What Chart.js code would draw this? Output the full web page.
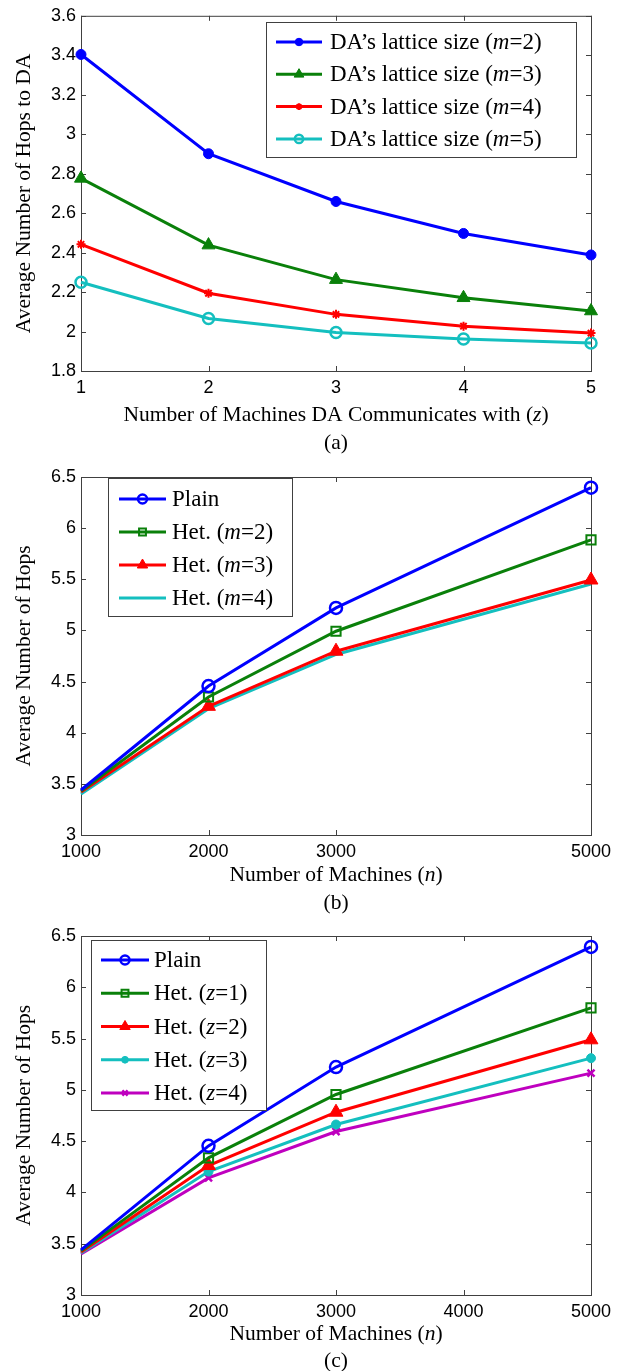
<!DOCTYPE html>
<html><head><meta charset="utf-8">
<script src="https://cdn.jsdelivr.net/npm/chart.js@4.4.1/dist/chart.umd.min.js"></script>
<style>
html,body{margin:0;padding:0;background:#fff;}
body{width:625px;height:1371px;position:relative;overflow:hidden;}
.panel{position:absolute;left:0;width:625px;}
canvas{display:block;}
</style></head><body>
<div class="panel" style="top:0;height:460px"><canvas id="ca" width="625" height="460"></canvas></div>
<div class="panel" style="top:460px;height:460px"><canvas id="cb" width="625" height="460"></canvas></div>
<div class="panel" style="top:920px;height:451px"><canvas id="cc" width="625" height="451"></canvas></div>
<script>
// ---------- data: panel (a) ----------
const zValues = [1, 2, 3, 4, 5];
const hopsToDA_m2 = [3.404, 2.901, 2.659, 2.497, 2.388];
const hopsToDA_m3 = [2.776, 2.438, 2.263, 2.171, 2.104];
const hopsToDA_m4 = [2.442, 2.194, 2.087, 2.027, 1.992];
const hopsToDA_m5 = [2.250, 2.066, 1.995, 1.962, 1.942];
const labelsA = ['DA\u2019s lattice size (m=2)', 'DA\u2019s lattice size (m=3)', 'DA\u2019s lattice size (m=4)', 'DA\u2019s lattice size (m=5)'];
const xTicksA = [1, 2, 3, 4, 5];
const yTicksA = [1.8, 2, 2.2, 2.4, 2.6, 2.8, 3, 3.2, 3.4, 3.6];
const yTitleA = 'Average Number of Hops to DA';
const xTitleA = 'Number of Machines DA Communicates with (z)';
const captionA = '(a)';

// ---------- data: panel (b) ----------
const machinesN = [1000, 2000, 3000, 5000];
const hopsB_plain = [3.44, 4.456, 5.220, 6.396];
const hopsB_m2 = [3.43, 4.349, 4.992, 5.886];
const hopsB_m3 = [3.42, 4.258, 4.797, 5.493];
const hopsB_m4 = [3.40, 4.235, 4.765, 5.454];
const labelsB = ['Plain', 'Het. (m=2)', 'Het. (m=3)', 'Het. (m=4)'];
const xTicksB = [1000, 2000, 3000, 5000];
const yTicksBC = [3, 3.5, 4, 4.5, 5, 5.5, 6, 6.5];
const yTitleB = 'Average Number of Hops';
const xTitleB = 'Number of Machines (n)';
const captionB = '(b)';

// ---------- data: panel (c) ----------
const hopsC_plain = [3.44, 4.454, 5.222, 6.393];
const hopsC_z1 = [3.43, 4.337, 4.955, 5.800];
const hopsC_z2 = [3.42, 4.262, 4.782, 5.488];
const hopsC_z3 = [3.41, 4.203, 4.662, 5.309];
const hopsC_z4 = [3.40, 4.142, 4.594, 5.163];
const labelsC = ['Plain', 'Het. (z=1)', 'Het. (z=2)', 'Het. (z=3)', 'Het. (z=4)'];
const xTicksC = [1000, 2000, 3000, 4000, 5000];
const yTitleC = 'Average Number of Hops';
const xTitleC = 'Number of Machines (n)';
const captionC = '(c)';

// ---------- styling ----------
const BLUE = '#0000ff', GREEN = '#0a800a', RED = '#ff0000', CYAN = '#14bfbf', MAGENTA = '#bf00bf';
const SERIF = '"Liberation Serif", "Times New Roman", serif';
const SANS = '"Liberation Sans", Arial, sans-serif';
const TITLE_PX = 21.5, LEGEND_PX = 23;

function segs(text) {
  const m = text.match(/\(([mnz])(?=[=)])/);
  if (!m) return [[text, false]];
  const i = m.index + 1;
  return [[text.slice(0, i), false], [text[i], true], [text.slice(i + 1), false]];
}
function setFont(ctx, italic, px) { ctx.font = (italic ? 'italic ' : '') + px + 'px ' + SERIF; }
function segWidth(ctx, parts, px) {
  let w = 0;
  parts.forEach(([t, it]) => { setFont(ctx, it, px); w += ctx.measureText(t).width; });
  return w;
}
function drawSegs(ctx, parts, x, y, px) {
  parts.forEach(([t, it]) => { setFont(ctx, it, px); ctx.fillText(t, x, y); x += ctx.measureText(t).width; });
}
function drawMarker(ctx, ds, x, y) {
  if (!ds.pointStyle || !ds.markerSize) return;
  ctx.save();
  ctx.fillStyle = ds.markerFill;
  ctx.strokeStyle = ds.borderColor;
  ctx.lineWidth = ds.pointBorderWidth;
  Chart.helpers.drawPoint(ctx, {pointStyle: ds.pointStyle, radius: ds.markerSize * 0.75, rotation: 0, borderWidth: ds.pointBorderWidth}, x, y);
  ctx.restore();
}

const framePlugin = {
  id: 'frame',
  beforeDatasetsDraw(chart) {
    const {ctx, chartArea: a, scales} = chart;
    ctx.save();
    ctx.strokeStyle = '#404040';
    ctx.lineWidth = 1;
    ctx.strokeRect(a.left + 0.5, a.top + 0.5, a.right - a.left, a.bottom - a.top);
    const tl = 5;
    ctx.beginPath();
    scales.x.ticks.forEach(t => {
      const px = Math.round(scales.x.getPixelForValue(t.value)) + 0.5;
      ctx.moveTo(px, a.bottom); ctx.lineTo(px, a.bottom - tl);
      ctx.moveTo(px, a.top); ctx.lineTo(px, a.top + tl);
    });
    scales.y.ticks.forEach(t => {
      const py = Math.round(scales.y.getPixelForValue(t.value)) + 0.5;
      ctx.moveTo(a.left, py); ctx.lineTo(a.left + tl, py);
      ctx.moveTo(a.right, py); ctx.lineTo(a.right - tl, py);
    });
    ctx.stroke();
    ctx.restore();
  },
  afterDatasetsDraw(chart, args, o) {
    const {ctx, chartArea: a} = chart;
    ctx.save();
    ctx.fillStyle = '#000';
    ctx.textBaseline = 'middle';
    // x title + caption
    const cx = (a.left + a.right) / 2;
    const xp = segs(o.xTitle);
    drawSegs(ctx, xp, cx - segWidth(ctx, xp, TITLE_PX) / 2, o.xTitleY, TITLE_PX);
    const cp = [[o.caption, false]];
    drawSegs(ctx, cp, cx - segWidth(ctx, cp, TITLE_PX) / 2, o.captionY, TITLE_PX);
    // y title
    ctx.save();
    ctx.translate(o.yTitleX, (a.top + a.bottom) / 2);
    ctx.rotate(-Math.PI / 2);
    const yp = segs(o.yTitle);
    drawSegs(ctx, yp, -segWidth(ctx, yp, TITLE_PX) / 2, 0, TITLE_PX);
    ctx.restore();
    // legend
    const L = o.legend;
    ctx.fillStyle = '#fff';
    ctx.fillRect(L.x, L.y, L.w, L.h);
    ctx.strokeStyle = '#404040';
    ctx.lineWidth = 1;
    ctx.strokeRect(L.x + 0.5, L.y + 0.5, L.w, L.h);
    chart.data.datasets.forEach((ds, i) => {
      const ry = L.y + L.first + i * L.step;
      ctx.strokeStyle = ds.borderColor;
      ctx.lineWidth = ds.borderWidth;
      ctx.beginPath();
      ctx.moveTo(L.x + L.lineOff, ry);
      ctx.lineTo(L.x + L.lineOff + L.lineLen, ry);
      ctx.stroke();
      drawMarker(ctx, ds, L.x + L.lineOff + L.lineLen / 2, ry);
      ctx.fillStyle = '#000';
      drawSegs(ctx, segs(ds.label), L.x + L.textOff, ry + 1, LEGEND_PX);
    });
    ctx.restore();
  }
};

// skipFirst: no marker drawn on the first point (as in panels b, c)
function series(label, xs, ys, color, style, radius, filled, bw, skipFirst) {
  const r = style ? radius : 0;
  const radii = xs.map((_, i) => (skipFirst && i === 0) ? 0 : r);
  const fill = filled ? color : 'rgba(0,0,0,0)';
  return {
    label, data: xs.map((x, i) => ({x, y: ys[i]})),
    borderColor: color, backgroundColor: color, borderWidth: 3,
    pointStyle: style || false, pointRadius: radii, markerSize: r, markerFill: fill,
    pointHoverRadius: radii,
    pointBackgroundColor: fill,
    pointBorderColor: color, pointBorderWidth: bw,
    tension: 0, clip: false
  };
}

function makeChart(id, datasets, xr, xTicks, yr, yTicks, bottomH, padTop, deco) {
  return new Chart(document.getElementById(id), {
    type: 'line',
    data: {datasets},
    plugins: [framePlugin],
    options: {
      responsive: false, animation: false, devicePixelRatio: 1,
      layout: {padding: {top: padTop, right: 34, left: 0, bottom: 0}},
      plugins: {legend: {display: false}, tooltip: {enabled: false}, frame: deco},
      scales: {
        x: {
          type: 'linear', min: xr[0], max: xr[1],
          afterBuildTicks: s => { s.ticks = xTicks.map(v => ({value: v})); },
          afterFit: s => { s.height = bottomH; },
          grid: {display: false, drawTicks: false}, border: {display: false},
          ticks: {padding: 6, color: '#000', font: {family: SANS, size: 18}, maxRotation: 0, autoSkip: false,
                  callback: v => String(v)}
        },
        y: {
          type: 'linear', min: yr[0], max: yr[1],
          afterBuildTicks: s => { s.ticks = yTicks.map(v => ({value: v})); },
          afterFit: s => { s.width = 81; },
          grid: {display: false, drawTicks: false}, border: {display: false},
          ticks: {padding: 5, color: '#000', font: {family: SANS, size: 18}, autoSkip: false,
                  callback: v => String(Number(v.toFixed(2)))}
        }
      }
    }
  });
}

makeChart('ca', [
  series(labelsA[0], zValues, hopsToDA_m2, BLUE, 'circle', 5, true, 1, false),
  series(labelsA[1], zValues, hopsToDA_m3, GREEN, 'triangle', 7.5, true, 1, false),
  series(labelsA[2], zValues, hopsToDA_m4, RED, 'star', 4.5, false, 2, false),
  series(labelsA[3], zValues, hopsToDA_m5, CYAN, 'circle', 5.5, false, 2.5, false)
], [1, 5], xTicksA, [1.8, 3.6], yTicksA, 89, 12, {
  xTitle: xTitleA, caption: captionA, yTitle: yTitleA, xTitleY: 415, captionY: 443, yTitleX: 24,
  legend: {x: 266, y: 22, w: 310, h: 135, first: 20, step: 32.3, lineOff: 10, lineLen: 46, textOff: 64}
});

makeChart('cb', [
  series(labelsB[0], machinesN, hopsB_plain, BLUE, 'circle', 6, false, 2.5, true),
  series(labelsB[1], machinesN, hopsB_m2, GREEN, 'rect', 6.5, false, 2, true),
  series(labelsB[2], machinesN, hopsB_m3, RED, 'triangle', 8, true, 1, true),
  series(labelsB[3], machinesN, hopsB_m4, CYAN, null, 0, false, 0, true)
], [1000, 5000], xTicksB, [3, 6.5], yTicksBC, 85, 17, {
  xTitle: xTitleB, caption: captionB, yTitle: yTitleB, xTitleY: 415, captionY: 443, yTitleX: 24,
  legend: {x: 108, y: 18, w: 184, h: 138, first: 21, step: 33, lineOff: 11, lineLen: 47, textOff: 64}
});

makeChart('cc', [
  series(labelsC[0], machinesN, hopsC_plain, BLUE, 'circle', 6, false, 2.5, true),
  series(labelsC[1], machinesN, hopsC_z1, GREEN, 'rect', 6.5, false, 2, true),
  series(labelsC[2], machinesN, hopsC_z2, RED, 'triangle', 8, true, 1, true),
  series(labelsC[3], machinesN, hopsC_z3, CYAN, 'circle', 4.5, true, 1, true),
  series(labelsC[4], machinesN, hopsC_z4, MAGENTA, 'crossRot', 5, false, 2.5, true)
], [1000, 5000], xTicksC, [3, 6.5], yTicksBC, 76, 16, {
  xTitle: xTitleC, caption: captionC, yTitle: yTitleC, xTitleY: 414, captionY: 441, yTitleX: 24,
  legend: {x: 91, y: 20, w: 175, h: 170, first: 20, step: 33.25, lineOff: 10, lineLen: 48, textOff: 63}
});
</script>
</body></html>
